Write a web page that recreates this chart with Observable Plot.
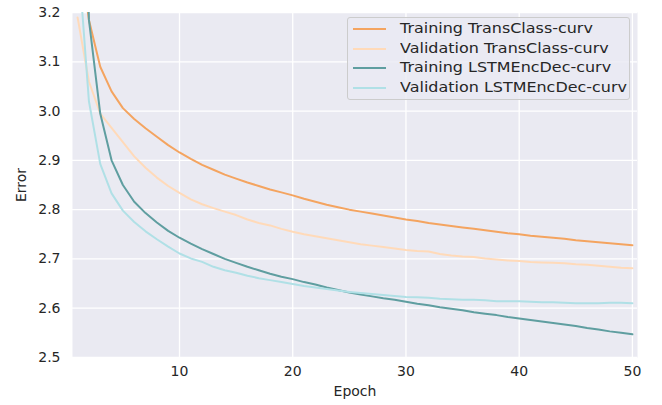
<!DOCTYPE html>
<html>
<head>
<meta charset="utf-8">
<script src="https://cdn.jsdelivr.net/npm/d3@7"></script>
<script src="https://cdn.jsdelivr.net/npm/@observablehq/plot@0.6"></script>
<style>
  body { margin: 0; background: #fff; font-family: "DejaVu Sans", sans-serif; }
  #wrap { position: relative; width: 662px; height: 405px; }
  #legend {
    position: absolute; left: 347px; top: 17px; width: 281px; height: 80px;
    background: rgba(234,234,242,0.8); border: 1px solid #cccccc; border-radius: 3px;
    box-sizing: content-box; padding-top: 1px;
  }
  .row { position: relative; height: 19.6px; font-family: "DejaVu Sans", sans-serif; font-size: 14px; color: #262626; line-height: 19.6px; }
  .sw { position: absolute; left: 5px; top: 9px; width: 33px; height: 2px; }
  .lab { position: absolute; left: 52px; top: 0; white-space: nowrap; transform: scaleX(1.14); transform-origin: 0 50%; }
</style>
</head>
<body>
<div id="wrap"><div id="chart"></div><div id="legend"></div></div>
<script>
const epochs = d3.range(1, 51);
const seriesNames = ["Training TransClass-curv", "Validation TransClass-curv", "Training LSTMEncDec-curv", "Validation LSTMEncDec-curv"];
const seriesColors = ["sandybrown", "peachpuff", "cadetblue", "powderblue"];
const trainTrans = [3.35, 3.185, 3.090, 3.040, 3.006, 2.984, 2.965, 2.948, 2.931, 2.916,
  2.903, 2.891, 2.881, 2.871, 2.863, 2.855, 2.848, 2.841, 2.835, 2.829,
  2.822, 2.816, 2.810, 2.805, 2.800, 2.796, 2.792, 2.788, 2.784, 2.780,
  2.777, 2.773, 2.770, 2.767, 2.764, 2.761, 2.758, 2.755, 2.752, 2.750,
  2.747, 2.745, 2.743, 2.741, 2.738, 2.736, 2.734, 2.732, 2.730, 2.728];
const valTrans = [3.19, 3.06, 2.995, 2.966, 2.937, 2.908, 2.885, 2.865, 2.848, 2.834,
  2.821, 2.811, 2.803, 2.796, 2.789, 2.780, 2.773, 2.768, 2.761, 2.755,
  2.750, 2.746, 2.742, 2.738, 2.734, 2.730, 2.727, 2.724, 2.721, 2.718,
  2.716, 2.715, 2.710, 2.707, 2.705, 2.704, 2.701, 2.699, 2.697, 2.696,
  2.694, 2.693, 2.692, 2.691, 2.689, 2.688, 2.686, 2.684, 2.682, 2.681];
const trainLSTM = [4.2, 3.185, 2.995, 2.900, 2.850, 2.816, 2.793, 2.774, 2.757, 2.743,
  2.731, 2.720, 2.710, 2.700, 2.692, 2.684, 2.677, 2.670, 2.664, 2.659,
  2.653, 2.648, 2.642, 2.637, 2.632, 2.628, 2.624, 2.620, 2.617, 2.613,
  2.609, 2.606, 2.602, 2.599, 2.596, 2.592, 2.589, 2.586, 2.582, 2.579,
  2.576, 2.573, 2.570, 2.567, 2.564, 2.560, 2.557, 2.553, 2.550, 2.547];
const valLSTM = [3.33, 3.02, 2.893, 2.833, 2.798, 2.775, 2.756, 2.740, 2.725, 2.711,
  2.701, 2.694, 2.684, 2.677, 2.672, 2.666, 2.661, 2.657, 2.653, 2.649,
  2.645, 2.642, 2.639, 2.636, 2.633, 2.631, 2.629, 2.627, 2.625, 2.623,
  2.622, 2.621, 2.619, 2.618, 2.617, 2.617, 2.616, 2.614, 2.614, 2.614,
  2.613, 2.612, 2.612, 2.611, 2.610, 2.610, 2.610, 2.611, 2.611, 2.610];
const xTicks = [10, 20, 30, 40, 50];
const yTicks = [2.5, 2.6, 2.7, 2.8, 2.9, 3.0, 3.1, 3.2];

const allSeries = [trainTrans, valTrans, trainLSTM, valLSTM];
const rows = allSeries.flatMap((vals, i) => vals.map((v, j) => ({epoch: epochs[j], value: v, series: seriesNames[i]})));

const chart = Plot.plot({
  width: 662, height: 405,
  marginLeft: 72, marginRight: 25, marginTop: 12, marginBottom: 48,
  style: {fontFamily: "DejaVu Sans, sans-serif", fontSize: "14px", color: "#262626", background: "white"},
  x: {domain: [0.55, 50.45]},
  y: {domain: [2.5, 3.2]},
  color: {domain: seriesNames, range: seriesColors},
  marks: [
    Plot.frame({fill: "#EAEAF2", stroke: null}),
    Plot.gridX(xTicks, {stroke: "white", strokeOpacity: 1, strokeWidth: 1.3}),
    Plot.gridY(yTicks, {stroke: "white", strokeOpacity: 1, strokeWidth: 1.3}),
    Plot.axisX({ticks: xTicks, tickSize: 0, tickPadding: 9, fontSize: 14,
      label: "Epoch", labelAnchor: "center", labelArrow: "none", labelOffset: 38}),
    Plot.axisY({ticks: yTicks, tickFormat: ".1f", tickSize: 0, tickPadding: 12, fontSize: 14,
      label: "Error", labelAnchor: "center", labelArrow: "none", labelOffset: 56}),
    Plot.lineY(rows, {x: "epoch", y: "value", z: "series", stroke: "series", strokeWidth: 2, clip: true})
  ]
});
document.getElementById("chart").appendChild(chart);

const legend = document.getElementById("legend");
seriesNames.forEach((name, i) => {
  const row = document.createElement("div");
  row.className = "row";
  const sw = document.createElement("div");
  sw.className = "sw";
  sw.style.background = seriesColors[i];
  const lab = document.createElement("div");
  lab.className = "lab";
  lab.textContent = name;
  row.appendChild(sw); row.appendChild(lab);
  legend.appendChild(row);
});
</script>
</body>
</html>
